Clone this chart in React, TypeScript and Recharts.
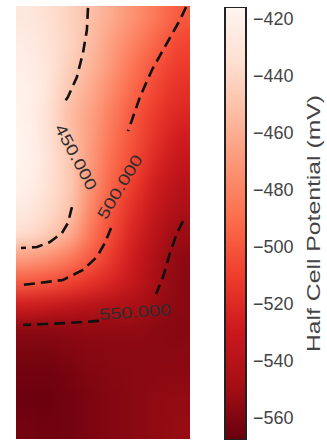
import React from "react";
import { ScatterChart, Scatter, BarChart, Bar, XAxis, YAxis } from "recharts";

// Half cell potential survey, mV. Rows run top to bottom, columns left to right.
const N_COLS = 8;
const N_ROWS = 18;
const POTENTIAL: number[][] = [
  [-428, -435, -442, -452, -463, -474, -486, -499],
  [-425, -432, -441, -454, -468, -481, -494, -507],
  [-422, -430, -444, -457, -472, -488, -502, -512],
  [-420, -430, -449, -462, -478, -494, -508, -517],
  [-419, -433, -453, -467, -484, -501, -513, -522],
  [-418, -432, -451, -469, -488, -503, -517, -528],
  [-418, -431, -447, -471, -492, -507, -523, -534],
  [-420, -433, -446, -474, -496, -513, -529, -540],
  [-426, -437, -449, -480, -503, -520, -535, -546],
  [-436, -445, -460, -487, -507, -525, -540, -552],
  [-468, -474, -484, -499, -514, -531, -546, -556],
  [-498, -502, -508, -515, -524, -535, -548, -557],
  [-528, -532, -536, -540, -543, -546, -552, -557],
  [-557, -557, -556, -555, -555, -555, -557, -558],
  [-562, -562, -560, -558, -557, -557, -557, -557],
  [-565, -565, -563, -560, -558, -557, -556, -556],
  [-566, -566, -564, -561, -559, -557, -555, -554],
  [-564, -565, -564, -561, -559, -557, -555, -553],
];

// colour scale limits and colorbar ticks
const VMIN = -567.8;
const VMAX = -416.1;
const CBAR_TICKS = [-420, -440, -460, -480, -500, -520, -540, -560];

// contour levels (mV) and their traced paths, in grid units
const CONTOUR_LEVELS = [-450, -500, -550];
const CONTOUR_450_UPPER = [
  { x: 3.31, y: 0.08 }, { x: 3.26, y: 1.0 }, { x: 3.08, y: 1.95 },
  { x: 2.8, y: 2.95 }, { x: 2.39, y: 3.78 }, { x: 2.16, y: 4.07 },
];
const CONTOUR_450_LOWER = [
  { x: 2.57, y: 8.36 }, { x: 2.39, y: 9.02 }, { x: 2.11, y: 9.44 },
  { x: 1.56, y: 9.81 }, { x: 0.97, y: 10.02 }, { x: 0.23, y: 10.06 },
];
const CONTOUR_500_UPPER = [
  { x: 7.82, y: 0.04 }, { x: 7.54, y: 0.58 }, { x: 6.94, y: 1.54 },
  { x: 6.25, y: 2.66 }, { x: 5.7, y: 3.78 }, { x: 5.33, y: 4.74 },
  { x: 5.15, y: 5.2 },
];
const CONTOUR_500_LOWER = [
  { x: 4.37, y: 9.23 }, { x: 4.09, y: 9.85 }, { x: 3.72, y: 10.43 },
  { x: 3.08, y: 10.97 }, { x: 2.16, y: 11.39 }, { x: 1.1, y: 11.51 },
  { x: 0.23, y: 11.6 },
];
const CONTOUR_550_RIGHT = [
  { x: 7.68, y: 8.94 }, { x: 7.4, y: 9.44 }, { x: 7.08, y: 10.27 },
  { x: 6.76, y: 11.27 }, { x: 6.44, y: 11.97 },
];
const CONTOUR_550_LEFT = [
  { x: 3.82, y: 13.09 }, { x: 2.34, y: 13.18 }, { x: 1.33, y: 13.22 },
  { x: 0.32, y: 13.26 },
];
const LABEL_X = [2.76, 4.78, 5.47];
const LABEL_Y = [6.28, 7.52, 12.72];
const LABEL_ANGLE = [62, -59, -4];

// matplotlib "Reds"
const REDS = [
  "#fff5f0", "#fee0d2", "#fcbba1", "#fc9272", "#fb6a4a",
  "#ef3b2c", "#cb181d", "#a50f15", "#67000d",
];

const W = 327;
const H = 443;
const MAP = { top: 6, left: 16, right: 190, bottom: 439 };
const MAP_W = MAP.right - MAP.left;
const MAP_H = MAP.bottom - MAP.top;
const CELL_W = MAP_W / N_COLS;
const CELL_H = MAP_H / N_ROWS;
const BLEED = 40; // room around the heat cells so the blur has no soft rim
const EDGE_PAD = 32;
const CBAR = { left: 225, right: 246, top: 7, bottom: 440 };
const CBAR_AXIS_W = 134;
const FONT = '"Liberation Sans", Arial, sans-serif';

const hexToRgb = (hex: string) => [
  parseInt(hex.slice(1, 3), 16),
  parseInt(hex.slice(3, 5), 16),
  parseInt(hex.slice(5, 7), 16),
];

const redsAt = (s: number) => {
  const t = Math.min(1, Math.max(0, s)) * (REDS.length - 1);
  const i = Math.min(REDS.length - 2, Math.floor(t));
  const f = t - i;
  const a = hexToRgb(REDS[i]);
  const b = hexToRgb(REDS[i + 1]);
  const c = a.map((v, k) => Math.round(v + (b[k] - v) * f));
  return `rgb(${c[0]},${c[1]},${c[2]})`;
};

// high (less negative) potential is light, low is dark
const colorFor = (v: number) => redsAt((VMAX - v) / (VMAX - VMIN));

const cells = POTENTIAL.flatMap((row, r) =>
  row.map((v, c) => ({ x: c + 0.5, y: r + 0.5, v, col: c, row: r })),
);

const labels = CONTOUR_LEVELS.map((level, i) => ({
  x: LABEL_X[i],
  y: LABEL_Y[i],
  angle: LABEL_ANGLE[i],
  text: Math.abs(level).toFixed(3),
}));

const cbarData = [{ name: "cbar", range: [VMIN, VMAX] }];

const HeatCell = (props: any) => {
  const { cx, cy, payload } = props;
  const l = payload.col === 0 ? EDGE_PAD : 0;
  const r = payload.col === N_COLS - 1 ? EDGE_PAD : 0;
  const t = payload.row === 0 ? EDGE_PAD : 0;
  const b = payload.row === N_ROWS - 1 ? EDGE_PAD : 0;
  return (
    <rect
      x={cx - CELL_W / 2 - l - 0.5}
      y={cy - CELL_H / 2 - t - 0.5}
      width={CELL_W + l + r + 1}
      height={CELL_H + t + b + 1}
      fill={colorFor(payload.v)}
    />
  );
};

const ContourLabel = (props: any) => {
  const { cx, cy, payload } = props;
  return (
    <text
      x={cx}
      y={cy}
      transform={`rotate(${payload.angle} ${cx} ${cy})`}
      textAnchor="middle"
      dominantBaseline="central"
      fontSize={16}
      fontFamily={FONT}
      fill="#2e2e2e"
      textLength={72}
      lengthAdjust="spacingAndGlyphs"
    >
      {payload.text}
    </text>
  );
};

const noPoint = () => <g />;
const dashed = { stroke: "#111", strokeWidth: 2.6, strokeDasharray: "11 6" };
const segments = [
  CONTOUR_450_UPPER, CONTOUR_450_LOWER,
  CONTOUR_500_UPPER, CONTOUR_500_LOWER,
  CONTOUR_550_RIGHT, CONTOUR_550_LEFT,
];

export default function App() {
  return (
    <div
      style={{
        position: "absolute",
        left: 0,
        top: 0,
        width: W,
        height: H,
        overflow: "hidden",
        background: "#fff",
        fontFamily: FONT,
      }}
    >
      <svg width={0} height={0} style={{ position: "absolute" }}>
        <defs>
          <linearGradient id="cbarGradient" x1="0" y1="0" x2="0" y2="1">
            {REDS.map((c, i) => (
              <stop key={c} offset={i / (REDS.length - 1)} stopColor={c} />
            ))}
          </linearGradient>
        </defs>
      </svg>

      {/* smoothed potential field */}
      <div
        style={{
          position: "absolute",
          left: MAP.left,
          top: MAP.top,
          width: MAP_W,
          height: MAP_H,
          overflow: "hidden",
        }}
      >
        <div style={{ position: "absolute", left: -BLEED, top: -BLEED, filter: "blur(9px)" }}>
          <ScatterChart
            width={MAP_W + 2 * BLEED}
            height={MAP_H + 2 * BLEED}
            margin={{ top: BLEED, left: BLEED, right: BLEED, bottom: BLEED }}
          >
            <XAxis type="number" dataKey="x" domain={[0, N_COLS]} hide />
            <YAxis type="number" dataKey="y" domain={[0, N_ROWS]} reversed hide />
            <Scatter data={cells} shape={HeatCell} isAnimationActive={false} />
          </ScatterChart>
        </div>
      </div>

      {/* contour lines and their labels */}
      <div style={{ position: "absolute", left: 0, top: 0 }}>
        <ScatterChart
          width={W}
          height={H}
          margin={{ top: MAP.top, left: MAP.left, right: W - MAP.right, bottom: H - MAP.bottom }}
        >
          <XAxis type="number" dataKey="x" domain={[0, N_COLS]} hide />
          <YAxis type="number" dataKey="y" domain={[0, N_ROWS]} reversed hide />
          {segments.map((seg, i) => (
            <Scatter
              key={i}
              data={seg}
              line={dashed}
              lineType="joint"
              shape={noPoint}
              isAnimationActive={false}
            />
          ))}
          <Scatter data={labels} shape={ContourLabel} isAnimationActive={false} />
        </ScatterChart>
      </div>

      {/* colorbar */}
      <div style={{ position: "absolute", left: 0, top: 0 }}>
        <BarChart
          width={CBAR.right + CBAR_AXIS_W}
          height={H}
          data={cbarData}
          barCategoryGap={0}
          margin={{ top: CBAR.top, left: CBAR.left, right: 0, bottom: H - CBAR.bottom }}
        >
          <XAxis dataKey="name" hide />
          <YAxis
            type="number"
            orientation="right"
            domain={[VMIN, VMAX]}
            ticks={CBAR_TICKS}
            allowDataOverflow
            width={CBAR_AXIS_W}
            axisLine={false}
            tickLine={false}
            tickSize={6}
            tickMargin={1}
            tick={{ fill: "#444", fontSize: 18 }}
            tickFormatter={(v: number) => `\u2212${Math.abs(v)}`}
            label={{
              value: "Half Cell Potential (mV)",
              angle: -90,
              position: "center",
              fill: "#444",
              fontSize: 19,
              textLength: 257,
              lengthAdjust: "spacingAndGlyphs",
            }}
          />
          <Bar
            dataKey="range"
            fill="url(#cbarGradient)"
            stroke="#222"
            strokeWidth={2}
            isAnimationActive={false}
          />
        </BarChart>
      </div>
    </div>
  );
}
